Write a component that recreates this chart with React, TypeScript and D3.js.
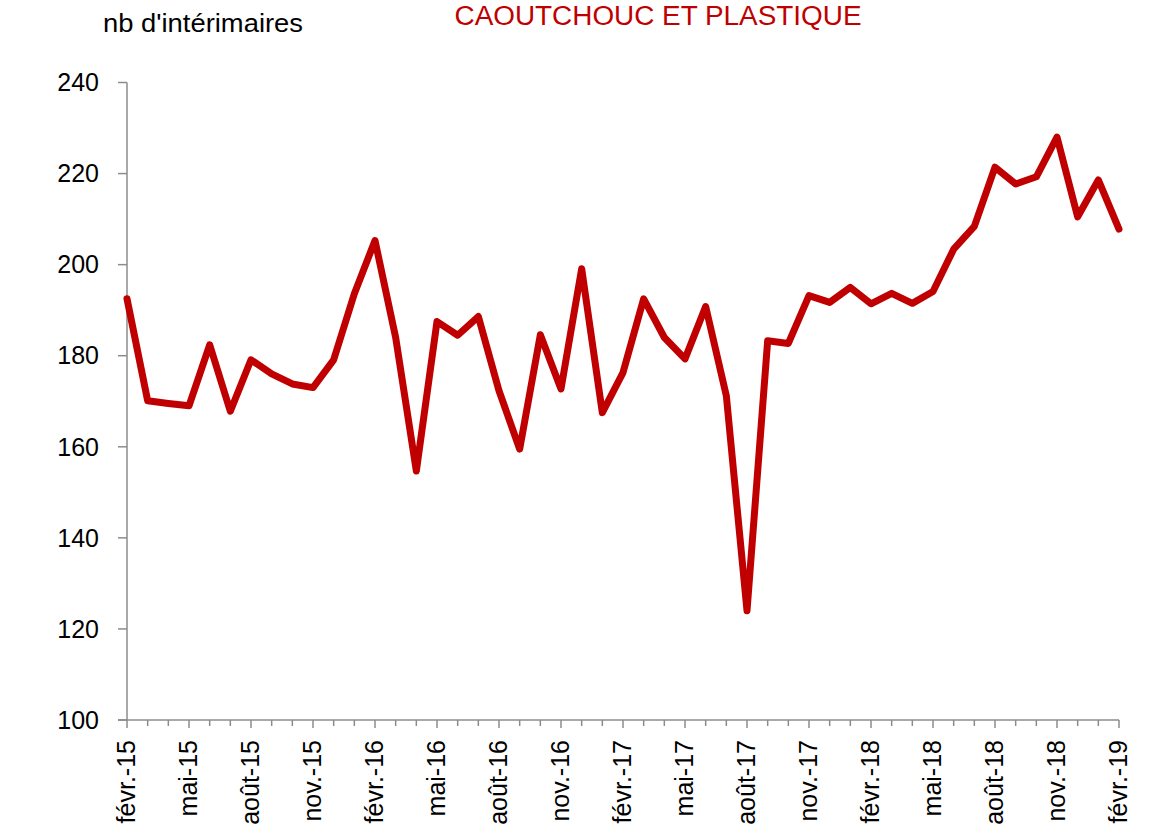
import React from "react";
import * as d3 from "d3";

const TITLE = "CAOUTCHOUC ET PLASTIQUE";
const Y_LABEL = "nb d'intérimaires";

const MONTHS = ["janv.", "févr.", "mars", "avr.", "mai", "juin", "juil.", "août", "sept.", "oct.", "nov.", "déc."];

// monthly values from févr.-15 to févr.-19
const VALUES: number[] = [
  192.5, 170.1, 169.5, 169.0, 182.4, 167.8, 179.1, 176.0, 173.8, 173.0, 179.1, 193.6,
  205.3, 184.0, 154.7, 187.5, 184.5, 188.6, 172.3, 159.5, 184.6, 172.7, 199.1, 167.5,
  176.3, 192.5, 184.0, 179.3, 190.8, 171.2, 124.0, 183.3, 182.7, 193.2, 191.7, 195.0,
  191.4, 193.7, 191.5, 194.1, 203.4, 208.4, 221.4, 217.7, 219.3, 228.0, 210.5, 218.6,
  207.8,
];

const Y_TICKS = [100, 120, 140, 160, 180, 200, 220, 240];

const START_MONTH = 1; // févr.
const START_YEAR = 15;

const LABELS = VALUES.map((_, i) => {
  const m = (START_MONTH + i) % 12;
  const y = START_YEAR + Math.floor((START_MONTH + i) / 12);
  return `${MONTHS[m]}-${y}`;
});

export default function App() {
  const W = 1160;
  const H = 835;
  const x = d3.scaleLinear().domain([0, VALUES.length - 1]).range([127, 1119]);
  const y = d3.scaleLinear().domain([100, 240]).range([720, 82.5]);
  const line = d3
    .line<number>()
    .x((_, i) => x(i))
    .y((d) => y(d));
  const axisColor = "#8c8c8c";
  const font = "'Liberation Sans', Arial, sans-serif";

  return (
    <svg
      width={W}
      height={H}
      style={{ position: "absolute", left: 0, top: 0, display: "block", background: "#fff" }}
      fontFamily={font}
    >
      <text
        x={658}
        y={25}
        textAnchor="middle"
        fontSize={27}
        fill="#C00000"
        textLength={407}
        lengthAdjust="spacingAndGlyphs"
      >
        {TITLE}
      </text>
      <text x={103} y={32} fontSize={25} fill="#000" textLength={200} lengthAdjust="spacingAndGlyphs">
        {Y_LABEL}
      </text>

      {/* Y axis */}
      <line x1={127} x2={127} y1={y(240)} y2={y(100)} stroke={axisColor} strokeWidth={1.5} />
      {Y_TICKS.map((t) => (
        <g key={t}>
          <line x1={118} x2={127} y1={y(t)} y2={y(t)} stroke={axisColor} strokeWidth={1.5} />
          <text x={99} y={y(t)} dy="0.35em" textAnchor="end" fontSize={25} fill="#000">
            {t}
          </text>
        </g>
      ))}

      {/* X axis */}
      <line x1={118} x2={x(VALUES.length - 1)} y1={y(100)} y2={y(100)} stroke={axisColor} strokeWidth={1.5} />
      {VALUES.map((_, i) => (
        <line
          key={i}
          x1={x(i)}
          x2={x(i)}
          y1={y(100)}
          y2={y(100) + (i % 3 === 0 ? 8 : 6)}
          stroke={axisColor}
          strokeWidth={1.5}
        />
      ))}
      {LABELS.map((lab, i) =>
        i % 3 === 0 ? (
          <text
            key={lab}
            transform={`translate(${x(i) + 8},740) rotate(-90)`}
            textAnchor="end"
            fontSize={25}
            fill="#000"
          >
            {lab}
          </text>
        ) : null
      )}

      <path
        d={line(VALUES) || ""}
        fill="none"
        stroke="#C00000"
        strokeWidth={7}
        strokeLinejoin="round"
        strokeLinecap="round"
      />
    </svg>
  );
}
